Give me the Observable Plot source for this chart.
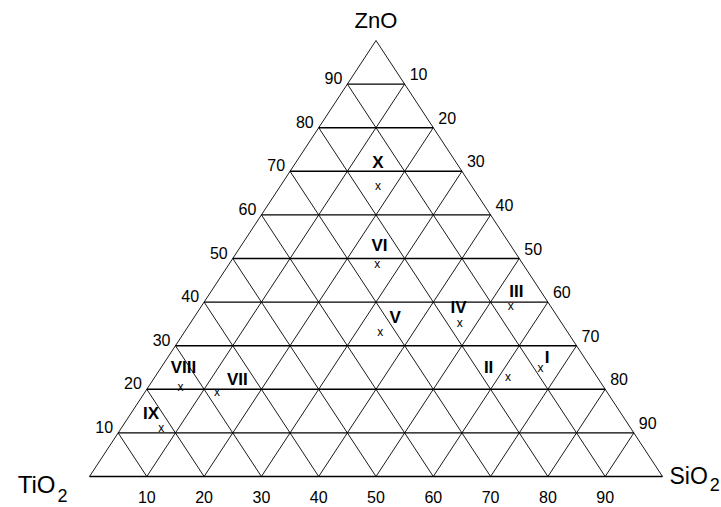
<!DOCTYPE html>
<html><head><meta charset="utf-8">
<script src="https://cdn.jsdelivr.net/npm/d3@7"></script>
<script src="https://cdn.jsdelivr.net/npm/@observablehq/plot@0.6"></script>
<style>body{margin:0;background:#fff}</style>
</head><body><div id="chart"></div>
<script>
// Sample compositions (%)
const samples   = ["I","II","III","IV","V","VI","VII","VIII","IX","X"];
const ZnO       = [24.8, 22.7, 39.0, 35.2, 33.1, 48.6, 19.3, 20.6, 11.2, 66.7];
const SiO2      = [66.3, 61.7, 54.0, 47.0, 34.2, 25.9, 12.6,  5.6,  6.9, 17.0];
const TiO2      = [ 8.9, 15.6,  7.0, 17.8, 32.7, 25.5, 68.1, 73.8, 81.9, 16.3];
// Where each sample's name is written (ternary %, ZnO and SiO2)
const labelZnO  = [27.3, 25.1, 42.4, 38.8, 36.5, 53.0, 22.2, 25.0, 14.5, 71.9];
const labelSiO2 = [66.2, 57.1, 53.3, 45.0, 35.1, 24.1, 14.7,  3.9,  3.5, 14.4];
// Grid / tick values
const gridTicks   = [10, 20, 30, 40, 50, 60, 70, 80, 90];
const leftLabels  = ["10","20","30","40","50","60","70","80","90"];   // ZnO on left edge
const rightLabels = ["10","20","30","40","50","60","70","80","90"];   // SiO2 on right edge
const bottomLabels= ["10","20","30","40","50","60","70","80","90"];   // SiO2 along base
const components  = ["ZnO", "TiO2", "SiO2"];

// ternary -> cartesian (x = SiO2 + ZnO/2, y = ZnO)
const tx = (s, z) => s + z / 2;

const pts = samples.map((n, i) => ({n, x: tx(SiO2[i], ZnO[i]), y: ZnO[i], t: TiO2[i]}));
const labs = samples.map((n, i) => ({n, x: tx(labelSiO2[i], labelZnO[i]), y: labelZnO[i]}));

const horiz = gridTicks.map(t => ({x1: t / 2, y1: t, x2: 100 - t / 2, y2: t}));
const diagS = gridTicks.map(t => ({x1: t, y1: 0, x2: t + (100 - t) / 2, y2: 100 - t}));
const diagT = gridTicks.map(t => ({x1: 100 - t, y1: 0, x2: (100 - t) / 2, y2: 100 - t}));
const edges = [
  {x1: 0, y1: 0, x2: 50, y2: 100},
  {x1: 100, y1: 0, x2: 50, y2: 100}
];
const base = [{x1: 0, y1: 0, x2: 100, y2: 0}];

const leftPos = gridTicks.map((t, i) => ({x: t / 2, y: t, s: leftLabels[i]}));
const rightPos = gridTicks.map((v, i) => ({x: 100 - (100 - v) / 2, y: 100 - v, s: rightLabels[i]}));
const bottomPos = gridTicks.map((v, i) => ({x: v, y: 0, s: bottomLabels[i]}));

const font = "Liberation Sans, Arial, sans-serif";

const chart = Plot.plot({
  width: 721,
  height: 507,
  marginLeft: 89,
  marginRight: 59,
  marginTop: 40,
  marginBottom: 31,
  x: {domain: [0, 100], axis: null},
  y: {domain: [0, 100], axis: null},
  style: {fontFamily: font, background: "#fff", color: "#000"},
  marks: [
    Plot.link(diagS, {x1: "x1", y1: "y1", x2: "x2", y2: "y2", stroke: "#000", strokeWidth: 0.9}),
    Plot.link(diagT, {x1: "x1", y1: "y1", x2: "x2", y2: "y2", stroke: "#000", strokeWidth: 0.9}),
    Plot.link(edges, {x1: "x1", y1: "y1", x2: "x2", y2: "y2", stroke: "#000", strokeWidth: 0.9}),
    Plot.link(horiz, {x1: "x1", y1: "y1", x2: "x2", y2: "y2", stroke: "#000", strokeWidth: 1.4}),
    Plot.link(base, {x1: "x1", y1: "y1", x2: "x2", y2: "y2", stroke: "#000", strokeWidth: 1.5}),
    Plot.text(leftPos, {x: "x", y: "y", text: "s", textAnchor: "end", dx: -5, dy: -5, fontSize: 16, fill: "#000"}),
    Plot.text(rightPos, {x: "x", y: "y", text: "s", textAnchor: "start", dx: 5, dy: -9, fontSize: 16, fill: "#000"}),
    Plot.text(bottomPos, {x: "x", y: "y", text: "s", textAnchor: "middle", dy: 21, fontSize: 16, fill: "#000"}),
    Plot.text(pts, {x: "x", y: "y", text: () => "x", fontSize: 12, fill: "#000"}),
    Plot.text(labs, {x: "x", y: "y", text: "n", fontSize: 17, fontWeight: "bold", fill: "#000"}),
    Plot.text([components[0]], {x: () => 50, y: () => 100, text: d => d, textAnchor: "middle", lineAnchor: "bottom", dy: -13, fontSize: 22, fill: "#000"}),
    Plot.text([components[1]], {x: () => 0, y: () => 0, text: d => d, textAnchor: "end", lineAnchor: "bottom", dx: -22, dy: 16, fontSize: 24, fill: "#000"}),
    Plot.text([components[2]], {x: () => 100, y: () => 0, text: d => d, textAnchor: "start", lineAnchor: "bottom", dx: 7, dy: 7, fontSize: 23, fill: "#000"})
  ]
});

// subscript the "2" in the oxide formulas
chart.querySelectorAll("text").forEach(t => {
  const s = t.textContent;
  if (s === "TiO2" || s === "SiO2") {
    t.textContent = s.slice(0, 3);
    const sub = document.createElementNS("http://www.w3.org/2000/svg", "tspan");
    sub.setAttribute("font-size", "18");
    sub.setAttribute("dx", "2");
    sub.setAttribute("dy", s === "TiO2" ? "9" : "7");
    sub.textContent = "2";
    t.appendChild(sub);
  }
});

document.getElementById("chart").appendChild(chart);
</script>
</body></html>
